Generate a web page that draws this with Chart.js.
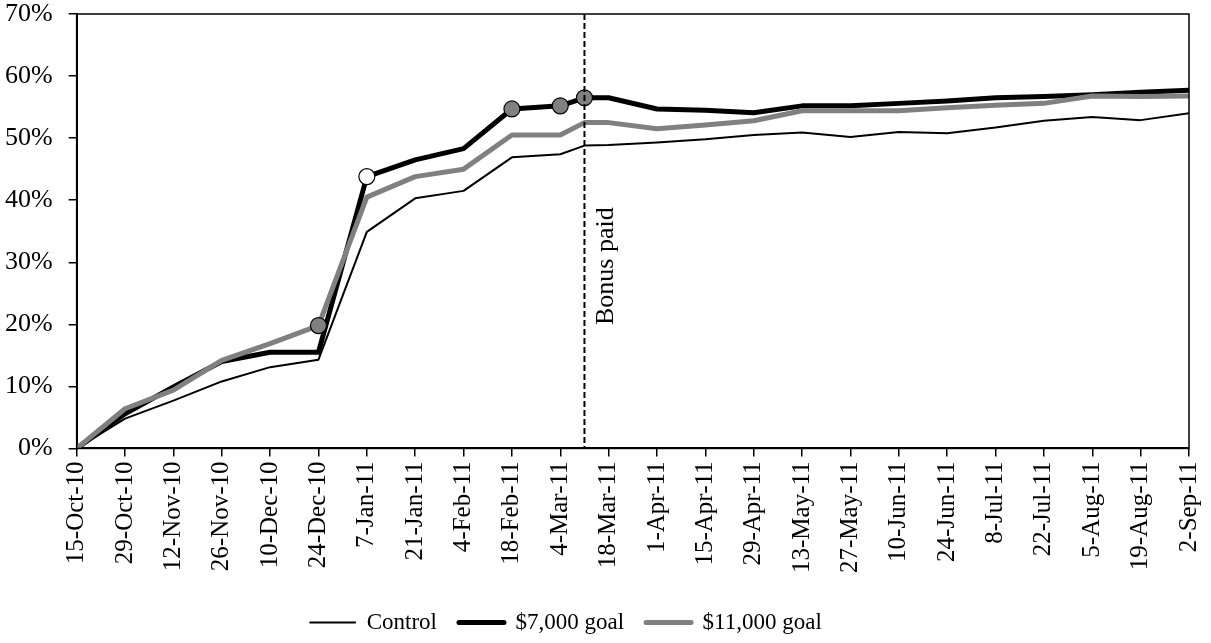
<!DOCTYPE html>
<html>
<head>
<meta charset="utf-8">
<title>Savings by goal</title>
<script src="https://cdn.jsdelivr.net/npm/chart.js@4.4.1/dist/chart.umd.min.js"></script>
<style>
    html, body { margin: 0; padding: 0; background: #fff; }
    #chartBox { width: 1211px; height: 643px; position: relative; }
</style>
</head>
<body>
<div id="chartBox"><canvas id="grafica"></canvas></div>
<script>
// Dates of the observations (every two weeks, plus the bonus date).
var startDate = '2010-10-15';
var pointDates = ['2010-10-15', '2010-10-29', '2010-11-12', '2010-11-26',
    '2010-12-10', '2010-12-24', '2011-01-07', '2011-01-21', '2011-02-04',
    '2011-02-18', '2011-03-04', '2011-03-11', '2011-03-18', '2011-04-01',
    '2011-04-15', '2011-04-29', '2011-05-13', '2011-05-27', '2011-06-10',
    '2011-06-24', '2011-07-08', '2011-07-22', '2011-08-05', '2011-08-19',
    '2011-09-02'];

var tickLabels = ['15-Oct-10', '29-Oct-10', '12-Nov-10', '26-Nov-10',
    '10-Dec-10', '24-Dec-10', '7-Jan-11', '21-Jan-11', '4-Feb-11',
    '18-Feb-11', '4-Mar-11', '18-Mar-11', '1-Apr-11', '15-Apr-11',
    '29-Apr-11', '13-May-11', '27-May-11', '10-Jun-11', '24-Jun-11',
    '8-Jul-11', '22-Jul-11', '5-Aug-11', '19-Aug-11', '2-Sep-11'];

// Percentages.
var valuesControl = [0, 4.8, 7.7, 10.8, 13.1, 14.3, 34.9, 40.3, 41.5, 46.9,
    47.4, 48.8, 48.9, 49.3, 49.8, 50.5, 50.9, 50.2, 51.0, 50.8, 51.7, 52.8,
    53.4, 52.9, 54.0];
var values7000 = [0, 5.6, 9.9, 14.0, 15.5, 15.5, 43.8, 46.5, 48.3, 54.7,
    55.2, 56.5, 56.5, 54.7, 54.5, 54.1, 55.2, 55.2, 55.6, 56.0, 56.5, 56.7,
    57.0, 57.4, 57.7];
var values11000 = [0, 6.4, 9.4, 14.2, 16.9, 19.8, 40.5, 43.8, 45.0, 50.5,
    50.5, 52.5, 52.5, 51.5, 52.1, 52.8, 54.4, 54.4, 54.4, 54.9, 55.3, 55.6,
    56.8, 56.7, 56.8];

// Points that carry a marker.
var marked7000Open = ['2011-01-07'];
var marked7000 = ['2011-02-18', '2011-03-04', '2011-03-11'];
var marked11000 = ['2010-12-24'];

var bonusDate = '2011-03-11';
var bonusLabel = 'Bonus paid';

var fontFamily = '"Liberation Serif", "Times New Roman", serif';

// Days since the first date.
function dayOf(s) {
    return (Date.parse(s) - Date.parse(startDate)) / 86400000;
}

function toPoints(values) {
    var pts = [];
    for (var i = 0; i < values.length; i++) {
        pts.push({ x: dayOf(pointDates[i]), y: values[i] });
    }
    return pts;
}

// Marker fill for a point, or null when the point has no marker.
function markerFill(ctx) {
    var d = pointDates[ctx.dataIndex];
    var k = ctx.datasetIndex;
    if (k === 1 && marked7000Open.indexOf(d) >= 0) return '#ffffff';
    if (k === 1 && marked7000.indexOf(d) >= 0) return '#808080';
    if (k === 2 && marked11000.indexOf(d) >= 0) return '#808080';
    return null;
}

// Plot frame, bonus line and its label.
var framePlugin = {
    id: 'frame',
    afterLayout: function (chart) {
        // the legend sits a little left of centre in the original
        chart.legend.left -= 34;
        chart.legend.right -= 34;
    },
    afterDatasetsDraw: function (chart) {
        var ctx = chart.ctx;
        var area = chart.chartArea;
        var x = chart.scales.x.getPixelForValue(dayOf(bonusDate));

        ctx.save();
        ctx.strokeStyle = '#000';
        ctx.lineWidth = 2;
        ctx.setLineDash([6, 3]);
        ctx.beginPath();
        ctx.moveTo(x, area.top);
        ctx.lineTo(x, area.bottom);
        ctx.stroke();

        ctx.setLineDash([]);
        ctx.lineWidth = 1.5;
        ctx.strokeRect(area.left, area.top, area.right - area.left, area.bottom - area.top);

        ctx.translate(x + 29, area.top + 311);
        ctx.rotate(-Math.PI / 2);
        ctx.fillStyle = '#000';
        ctx.font = '26px ' + fontFamily;
        ctx.textAlign = 'left';
        ctx.textBaseline = 'alphabetic';
        ctx.fillText(bonusLabel, 0, 0);
        ctx.restore();
    }
};

var context = document.getElementById('grafica').getContext('2d');

var chart = new Chart(context, {
    type: 'line',
    data: {
        datasets: [{
            label: 'Control',
            data: toPoints(valuesControl),
            borderColor: '#000000',
            borderWidth: 2,
            pointBorderColor: '#000000',
            pointBorderWidth: 1.2,
            order: 3
        }, {
            label: '$7,000 goal',
            data: toPoints(values7000),
            borderColor: '#000000',
            borderWidth: 5,
            pointBorderColor: '#000000',
            pointBorderWidth: 1.2,
            order: 2
        }, {
            label: '$11,000 goal',
            data: toPoints(values11000),
            borderColor: '#808080',
            borderWidth: 5,
            pointBorderColor: '#000000',
            pointBorderWidth: 1.2,
            order: 1
        }]
    },
    options: {
        responsive: true,
        maintainAspectRatio: false,
        animation: false,
        layout: { padding: { left: -11, right: 0, top: 0, bottom: -1 } },
        elements: {
            line: { tension: 0, borderJoinStyle: 'round', borderCapStyle: 'round' },
            point: {
                radius: function (ctx) { return markerFill(ctx) ? 8 : 0; },
                hoverRadius: 0,
                backgroundColor: function (ctx) { return markerFill(ctx) || 'transparent'; }
            }
        },
        scales: {
            x: {
                type: 'linear',
                min: 0,
                max: dayOf(pointDates[pointDates.length - 1]),
                border: { display: true, color: '#000', width: 2 },
                grid: { drawOnChartArea: false, drawTicks: true, tickLength: 8, color: '#000', lineWidth: 1.5 },
                afterFit: function (scale) {
                    scale.height += 11;
                    scale.paddingRight = 22;
                },
                ticks: {
                    stepSize: 14,
                    autoSkip: false,
                    minRotation: 90,
                    maxRotation: 90,
                    padding: 5,
                    color: '#000',
                    font: { family: fontFamily, size: 25 },
                    callback: function (value) {
                        return tickLabels[Math.round(value / 14)];
                    }
                }
            },
            y: {
                min: 0,
                max: 70,
                border: { display: true, color: '#000', width: 2 },
                grid: { drawOnChartArea: false, drawTicks: true, tickLength: 8, color: '#000', lineWidth: 1.5 },
                afterFit: function (scale) { scale.paddingTop = 14; },
                ticks: {
                    stepSize: 10,
                    padding: 16,
                    color: '#000',
                    font: { family: fontFamily, size: 26 },
                    callback: function (value) { return value + '%'; }
                }
            }
        },
        plugins: {
            tooltip: { enabled: false },
            legend: {
                position: 'bottom',
                labels: {
                    usePointStyle: true,
                    pointStyleWidth: 45,
                    padding: 22,
                    color: '#000',
                    font: { family: fontFamily, size: 23 },
                    generateLabels: function (chart) {
                        return chart.data.datasets.map(function (ds, i) {
                            return {
                                text: ds.label,
                                fillStyle: ds.borderColor,
                                strokeStyle: ds.borderColor,
                                lineWidth: ds.borderWidth,
                                lineCap: 'round',
                                pointStyle: 'line',
                                fontColor: '#000',
                                hidden: false,
                                datasetIndex: i
                            };
                        });
                    }
                }
            }
        }
    },
    plugins: [framePlugin]
});
</script>
</body>
</html>
